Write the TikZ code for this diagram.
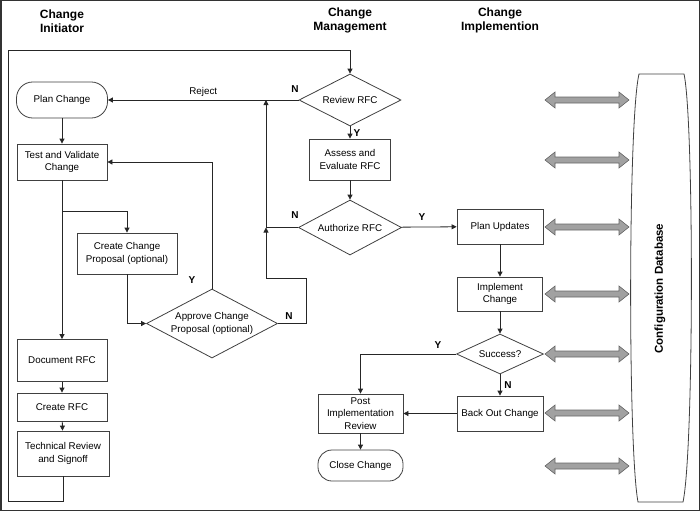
\documentclass[tikz,border=0pt]{standalone}
\usepackage{fontspec}
\setmainfont{Liberation Sans}
\usetikzlibrary{arrows.meta, shapes.geometric}

\begin{document}
\begin{tikzpicture}[x=1pt, y=-1pt,
every edge/.style = {draw=black!85, line width=0.8pt, -{Triangle[length=5pt,width=5pt]}},
  arw/.style = {draw=black!85, line width=0.8pt, -{Triangle[length=5pt,width=5pt]}},
  box/.style args = {#1/#2}{%
      rectangle, draw=black!75, line width=0.8pt, fill=white, align=center,
      font=\fontsize{9.8}{12.5}\selectfont, inner sep=0.5pt,
      minimum width=#1pt, minimum height=#2pt},
 term/.style args = {#1/#2}{box=#1/#2, rounded corners=0.45*#2pt},
 dmnd/.style args = {#1/#2}{%
      diamond, draw=black!75, line width=0.8pt, fill=white, align=center, aspect=1.9,
      font=\fontsize{9.8}{12.5}\selectfont, inner sep=0pt,
      minimum width=#1pt, minimum height=#2pt},
  ttl/.style = {font=\bfseries\fontsize{12}{14}\selectfont, align=center},
   yn/.style = {font=\bfseries\fontsize{10}{12}\selectfont},
  dbl/.style = {draw=black!60, fill=black!37, line width=0.6pt}
                    ]
\useasboundingbox (0,0) rectangle (700,511);
\draw [black!80, line width=1.5pt] (0.75,0.75) rectangle (699.25,510.25);
 %
\node (ci)    [ttl]         at ( 62, 21)   {Change\\Initiator};
\node (cm)    [ttl]         at (350, 20)   {Change\\Management};
\node (cx)    [ttl]         at (500, 20)   {Change\\Implemention};
 %
\node (plan)  [term=91/36]  at ( 62,100)   {Plan Change};
\node (test)  [box=90/36]   at ( 62,162)   {Test and Validate\\Change};
\node (prop)  [box=100/41]  at (127,253.5) {Create Change\\Proposal (optional)};
\node (appr)  [dmnd=131/69] at (212,323.5) {Approve Change\\Proposal (optional)};
\node (doc)   [box=90/42]   at ( 62,360.5) {Document RFC};
\node (crfc)  [box=90/28]   at ( 62,407)   {Create RFC};
\node (tech)  [box=92/45]   at ( 63,453.5) {Technical Review\\and Signoff};
\node (rev)   [dmnd=102/52] at (350,100)   {Review RFC};
\node (asse)  [box=81/41]   at (350,159.5) {Assess and\\Evaluate RFC};
\node (auth)  [dmnd=103/55] at (350,227.5) {Authorize RFC};
\node (pupd)  [box=86/35]   at (500,226.5) {Plan Updates};
\node (impl)  [box=85/34]   at (500,294)   {Implement\\Change};
\node (succ)  [dmnd=87/40]  at (500,354)   {Success?};
\node (back)  [box=86/35]   at (500,413.5) {Back Out Change};
\node (post)  [box=85/39]   at (360.5,413.5) {Post\\Implementation\\Review};
\node (close) [term=85/31]  at (360.5,465.5) {Close Change};
 %
\coordinate (j1) at (266,100);
\coordinate (j2) at (266,227.5);
\coordinate (k1) at (306,278);
\coordinate (b1) at ( 62,211);
 %
\path   (plan) edge (test)
        (doc)  edge (crfc)
        (crfc) edge (tech)
        (rev)  edge node [above, font=\fontsize{9.8}{12}\selectfont] {Reject} (plan)
        (rev)  edge (asse)
        (asse) edge (auth)
        (auth) edge (pupd)
        (pupd) edge (impl)
        (impl) edge (succ)
        (succ) edge (back)
        (back) edge (post)
        (post) edge (close);
\draw [arw] (test.south) -- (doc.north);
\draw [arw] (b1) -| (prop.north);
\draw [arw] (prop.south) |- (appr.west);
\draw [arw] (appr.north) |- (test.east);
\draw [arw] (appr.east) -| (k1) -- (266,278) -- (j2);
\draw [arw] (auth.west) -- (j2) -- (j1);
\draw [arw] (succ.west) -| (post.north);
\draw [arw] (tech.south) |- (8,501) -- (8,50) -| (rev.north);
 %
\node (n1) [yn] at (295, 89) {N};
\node (y1) [yn] at (357,133) {Y};
\node (n2) [yn] at (295,215) {N};
\node (y2) [yn] at (422,217) {Y};
\node (y3) [yn] at (192,280) {Y};
\node (n3) [yn] at (289,316) {N};
\node (y4) [yn] at (438,345) {Y};
\node (n4) [yn] at (508,385) {N};
 %
\foreach \y in {100,160,227,294,354,413,466}
  \draw [dbl] (545,\y) -- (555,\y-8) -- (555,\y-3) -- (619,\y-3) -- (619,\y-8)
        -- (629,\y) -- (619,\y+8) -- (619,\y+3) -- (555,\y+3) -- (555,\y+8) -- cycle;
 %
\draw [black!75, line width=0.8pt] (639,74) -- (684,74) .. controls (694,120) and (694,450) .. (683,502)
        -- (638,502) .. controls (628,450) and (628,120) .. (639,74) -- cycle;
\node (db) [ttl, font=\bfseries\fontsize{11.5}{14}\selectfont, rotate=90]
        at (660,288.5) {Configuration Database};
\end{tikzpicture}
\end{document}
